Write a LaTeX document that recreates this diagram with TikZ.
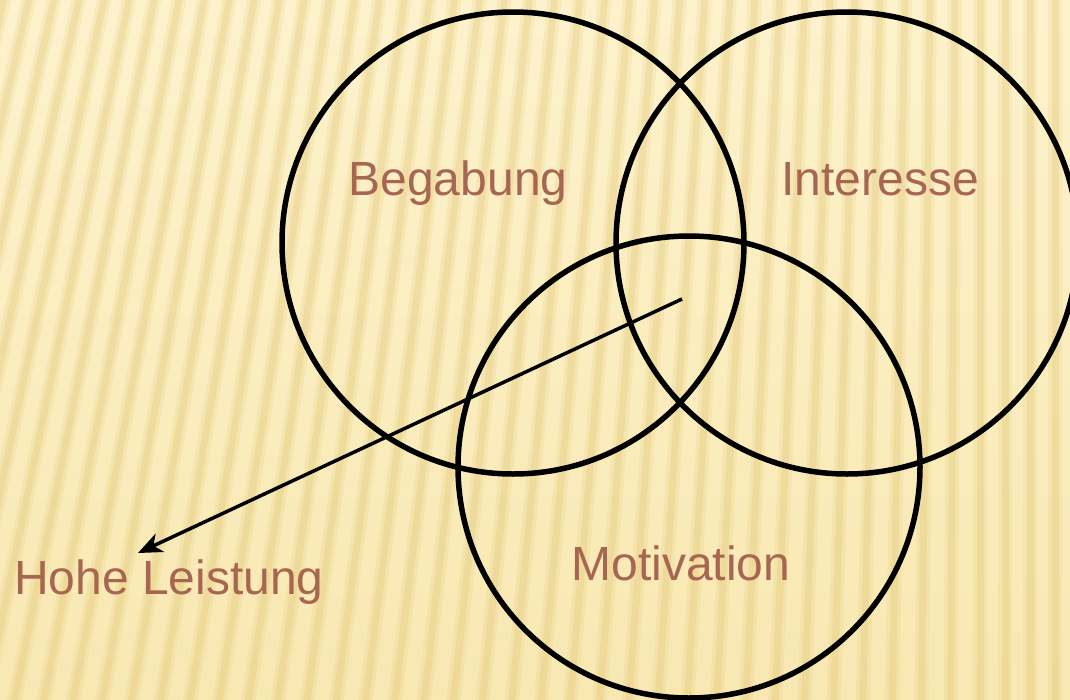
\documentclass[tikz,border=0pt]{standalone}
\usepackage{fontspec}
\setmainfont{Liberation Sans}
\usetikzlibrary{arrows.meta}
\definecolor{bgtop}{RGB}{253,242,204}
\definecolor{bgbot}{RGB}{248,232,178}
\definecolor{stripecol}{RGB}{226,198,115}
\definecolor{labelcol}{RGB}{166,102,82}
\tikzset{
  venn/.style={circle, draw=black, line width=5.5pt, minimum size=462pt, inner sep=0pt},
  lbl/.style={text=labelcol, font=\fontsize{48}{56}\selectfont, inner sep=0pt},
  stripesoft/.style={draw=stripecol, line width=14pt, opacity=0.18},
  stripecore/.style={draw=stripecol, line width=7pt, opacity=0.28},
  pointer/.style={draw=black, line width=3.5pt, -{Stealth[length=24pt,width=20pt,inset=7pt]}}
}
\begin{document}
\begin{tikzpicture}[x=1pt,y=-1pt]
\useasboundingbox (0,0) rectangle (1070,699);
\begin{scope}
\clip (0,0) rectangle (1070,699);
\shade[top color=bgtop, bottom color=bgbot] (0,0) rectangle (1070,699);
\foreach \t in {-220,-195,...,1100}{
  \pgfmathsetmacro{\s}{max(0,0.24*(1-\t/980))}
  \pgfmathsetmacro{\b}{\t-\s*699}
  \draw[stripesoft] (\t,-5) -- (\b,704);
  \draw[stripecore] (\t,-5) -- (\b,704);
}
\end{scope}
\node[venn] (c1) at (513,243) {};
\node[venn] (c2) at (847,243) {};
\node[venn] (c3) at (689,467) {};
\node[lbl, anchor=base] (beg) at (458,195) {Begabung};
\node[lbl, anchor=base] (int) at (880,195) {Interesse};
\node[lbl, anchor=base] (mot) at (681,580) {Motivation};
\node[lbl, anchor=base west] (hl) at (14,594) {Hohe Leistung};
\coordinate (hs) at (682,299);
\coordinate (he) at (138,553);
\draw[pointer] (hs) -- (he);
\end{tikzpicture}
\end{document}
